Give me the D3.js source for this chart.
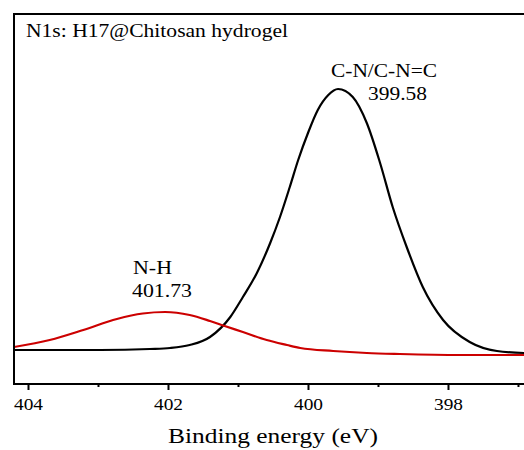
<!DOCTYPE html>
<html>
<head>
<meta charset="utf-8">
<script src="https://cdn.jsdelivr.net/npm/d3@7"></script>
<style>
  html, body { margin: 0; padding: 0; background: #fff; }
  svg { display: block; }
  text { font-family: "Liberation Serif", "Times New Roman", serif; fill: #000; }
</style>
</head>
<body>
<svg id="chart" width="524" height="450"></svg>
<script>
// ---- Data (binding energy in eV, intensity in arbitrary units) ----
const majorTicks = [404, 402, 400, 398];
const minorTicks = [403, 401, 399, 397];

const cnEnergy = [404.20, 402.97, 402.26, 401.97, 401.69, 401.40, 401.11, 400.93, 400.73, 400.54, 400.40, 400.26, 400.14, 400.00, 399.86, 399.71, 399.57, 399.36, 399.16, 398.97, 398.79, 398.59, 398.36, 398.07, 397.69, 397.30, 396.91];
const cnIntensity = [34, 34, 35, 36, 39, 47, 67, 87, 111, 141, 167, 197, 224, 251, 274, 289, 295, 287, 261, 221, 177, 137, 97, 64, 42, 33, 31];

const nhEnergy = [404.20, 403.69, 403.21, 402.73, 402.36, 402.04, 401.69, 401.40, 401.19, 400.93, 400.59, 400.30, 400.11, 399.64, 399.16, 398.69, 397.83, 396.91];
const nhIntensity = [37, 44, 54, 65, 70.5, 72, 69, 63, 58, 52, 44, 39, 36, 33, 31, 30, 29, 29];

const panelLabel = "N1s: H17@Chitosan hydrogel";
const xTitle = "Binding energy (eV)";
const peakLabels = [
  { name: "C-N/C-N=C", value: "399.58" },
  { name: "N-H", value: "401.73" }
];

// ---- Layout ----
const svg = d3.select("#chart");
const pL = 14, pR = 524, pT = 14, pB = 384;

const x = d3.scaleLinear().domain([404.2, 396.914]).range([pL, pR]);
const y = d3.scaleLinear().domain([0, 370]).range([pB, pT]);

svg.append("clipPath").attr("id", "plotclip")
  .append("rect").attr("x", pL).attr("y", pT).attr("width", pR - pL).attr("height", pB - pT);

const line = d3.line()
  .x(d => x(d[0]))
  .y(d => y(d[1]))
  .curve(d3.curveMonotoneX);

const g = svg.append("g").attr("clip-path", "url(#plotclip)");

g.append("path")
  .datum(cnEnergy.map((e, i) => [e, cnIntensity[i]]).reverse())
  .attr("d", line)
  .attr("fill", "none")
  .attr("stroke", "#000")
  .attr("stroke-width", 2.2);

g.append("path")
  .datum(nhEnergy.map((e, i) => [e, nhIntensity[i]]).reverse())
  .attr("d", line)
  .attr("fill", "none")
  .attr("stroke", "#cc0000")
  .attr("stroke-width", 2.2);

// ---- Frame (left, top) ----
svg.append("line").attr("x1", pL).attr("x2", pL).attr("y1", pT - 1).attr("y2", pB + 1)
  .attr("stroke", "#000").attr("stroke-width", 2);
svg.append("line").attr("x1", pL - 1).attr("x2", pR).attr("y1", pT).attr("y2", pT)
  .attr("stroke", "#000").attr("stroke-width", 2);

// ---- Bottom axis ----
const axisG = svg.append("g").attr("transform", `translate(0,${pB})`);
const xAxis = d3.axisBottom(x).tickValues(majorTicks).tickSize(6).tickFormat(d3.format("d"));
axisG.call(xAxis);
axisG.select(".domain").attr("stroke-width", 2).attr("d", `M${pL - 1},0H${pR}`);
axisG.selectAll(".tick line").attr("stroke-width", 2);
axisG.selectAll(".tick text")
  .attr("font-size", 16)
  .attr("textLength", 29)
  .attr("lengthAdjust", "spacingAndGlyphs")
  .attr("dy", null)
  .attr("y", 26);

const minorG = svg.append("g").attr("transform", `translate(0,${pB})`);
const minorAxis = d3.axisBottom(x).tickValues(minorTicks).tickSize(3).tickFormat("");
minorG.call(minorAxis);
minorG.select(".domain").remove();
minorG.selectAll(".tick line").attr("stroke-width", 2);

// ---- Texts ----
svg.append("text").attr("x", 26).attr("y", 37).attr("font-size", 18)
  .attr("textLength", 262).attr("lengthAdjust", "spacingAndGlyphs")
  .text(panelLabel);

svg.append("text").attr("x", 273).attr("y", 443).attr("font-size", 21)
  .attr("text-anchor", "middle")
  .attr("textLength", 210).attr("lengthAdjust", "spacingAndGlyphs")
  .text(xTitle);

// C-N/C-N=C label
svg.append("text").attr("x", 331).attr("y", 77).attr("font-size", 18)
  .attr("textLength", 106).attr("lengthAdjust", "spacingAndGlyphs")
  .text(peakLabels[0].name);
svg.append("text").attr("x", 368).attr("y", 100).attr("font-size", 18)
  .attr("textLength", 59).attr("lengthAdjust", "spacingAndGlyphs")
  .text(peakLabels[0].value);

// N-H label
svg.append("text").attr("x", 133).attr("y", 274).attr("font-size", 18)
  .attr("textLength", 39).attr("lengthAdjust", "spacingAndGlyphs")
  .text(peakLabels[1].name);
svg.append("text").attr("x", 132).attr("y", 297).attr("font-size", 18)
  .attr("textLength", 60).attr("lengthAdjust", "spacingAndGlyphs")
  .text(peakLabels[1].value);
</script>
</body>
</html>
